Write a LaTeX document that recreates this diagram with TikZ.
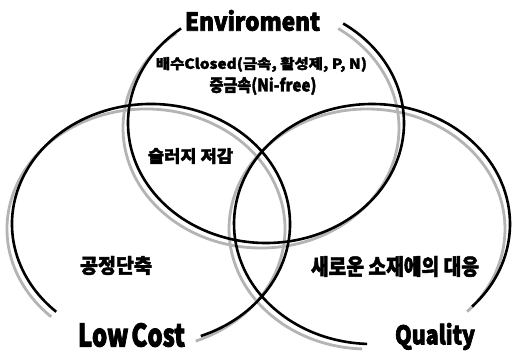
\documentclass[tikz,border=0pt]{standalone}
\usepackage{fontspec}
\usepackage{graphicx}
\newfontfamily\krfont{Noto Sans CJK KR}[BoldFeatures={FakeBold=2}]
\newfontfamily\krtitle{Noto Sans CJK KR}[BoldFeatures={FakeBold=3}]
\definecolor{shadegray}{HTML}{B4B4B4}
% stretch a label to a given width and total height
\newcommand\fitbox[3]{\resizebox*{#1}{#2}{#3}}
\tikzset{
  ring/.style={line width=2.6pt, black},
  ringshade/.style={line width=2.8pt, color=shadegray},
  lbl/.style={inner sep=0pt, outer sep=0pt, font=\krfont\bfseries},
  title/.style={inner sep=0pt, outer sep=0pt, font=\krtitle\bfseries}
}
\begin{document}
\begin{tikzpicture}[x=1pt,y=1pt]
  \fill[white] (0,0) rectangle (514,356);
  \useasboundingbox (0,0) rectangle (514,356);

  % centres of the three ellipses
  \coordinate (cEnv) at (266,233);
  \coordinate (cCost) at (151,132);
  \coordinate (cQual) at (372,132);

  % grey drop shadows, offset down and to the left
  \draw[ringshade] ([xshift=-5pt,yshift=-5pt]cEnv) ++(128:138pt and 120pt)
    arc[start angle=128, end angle=416, x radius=138pt, y radius=120pt];
  \draw[ringshade] ([xshift=-5pt,yshift=-5pt]cCost) ++(-69:139pt and 120pt)
    arc[start angle=-69, end angle=227, x radius=139pt, y radius=120pt];
  \draw[ringshade] ([xshift=-5pt,yshift=-5pt]cQual) ++(-43.5:138pt and 120pt)
    arc[start angle=-43.5, end angle=268, x radius=138pt, y radius=120pt];

  % black outlines
  \draw[ring] (cEnv) ++(128:138pt and 120pt)
    arc[start angle=128, end angle=416, x radius=138pt, y radius=120pt];
  \draw[ring] (cCost) ++(-69:139pt and 120pt)
    arc[start angle=-69, end angle=227, x radius=139pt, y radius=120pt];
  \draw[ring] (cQual) ++(-43.5:138pt and 120pt)
    arc[start angle=-43.5, end angle=268, x radius=138pt, y radius=120pt];

  % circle titles
  \node[title] (env)  at (252.5,335.5) {\fitbox{135pt}{21pt}{Enviroment}};
  \node[title] (cost) at (131.5,21)    {\fitbox{107pt}{24pt}{Low\hspace{0.12em}Cost}};
  \node[title] (qual) at (435,19.5)    {\fitbox{80pt}{27pt}{Quality}};

  % region texts
  \node[lbl] (envA) at (261.5,291.5) {\fitbox{211pt}{15pt}{배수Closed(금속, 활성제, P, N)}};
  \node[lbl] (envB) at (263,270)     {\fitbox{107pt}{18pt}{중금속(Ni-free)}};
  \node[lbl] (sludge) at (190.5,200) {\fitbox{85pt}{16pt}{슬러지 저감}};
  \node[lbl] (short) at (116,90.5)   {\fitbox{72pt}{19pt}{공정단축}};
  \node[lbl] (newmat) at (395,89.5)  {\fitbox{168pt}{21pt}{새로운 소재에의 대응}};
\end{tikzpicture}
\end{document}
